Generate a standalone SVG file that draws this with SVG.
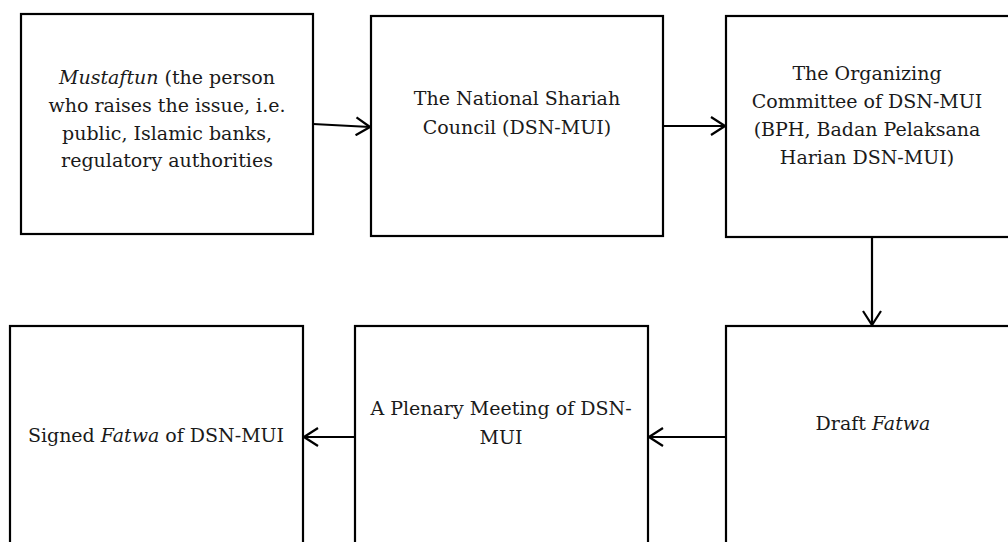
<svg xmlns="http://www.w3.org/2000/svg" width="1008" height="542" viewBox="0 0 1008 542">
<defs>
<style>
.box{fill:#fff;stroke:#000;stroke-width:2.2}
.t{font-family:"DejaVu Serif","Liberation Serif",serif;font-size:19px;fill:#1a1a1a;text-anchor:middle}
.i{font-style:italic}
.c{fill:none;stroke:#000;stroke-width:2.2}
</style>
<marker id="ah" viewBox="0 0 16 20" refX="15" refY="10" markerWidth="16" markerHeight="20" markerUnits="userSpaceOnUse" orient="auto">
<path d="M1,1 L15,10 L1,19" fill="none" stroke="#000" stroke-width="2.2"/>
</marker>
</defs>
<rect width="1008" height="542" fill="#fff"/>
<g id="n1"><rect class="box" x="21" y="14" width="292" height="220"/>
<text class="t" x="167" y="84"><tspan class="i">Mustaftun</tspan> (the person</text>
<text class="t" x="167" y="112">who raises the issue, i.e.</text>
<text class="t" x="167" y="140">public, Islamic banks,</text>
<text class="t" x="167" y="167">regulatory authorities</text></g>
<g id="n2"><rect class="box" x="371" y="16" width="292" height="220"/>
<text class="t" x="517" y="105">The National Shariah</text>
<text class="t" x="517" y="134">Council (DSN-MUI)</text></g>
<g id="n3"><rect class="box" x="726" y="16" width="300" height="221"/>
<text class="t" x="867" y="80">The Organizing</text>
<text class="t" x="867" y="108">Committee of DSN-MUI</text>
<text class="t" x="867" y="136">(BPH, Badan Pelaksana</text>
<text class="t" x="867" y="164">Harian DSN-MUI)</text></g>
<g id="n4"><rect class="box" x="10" y="326" width="293" height="240"/>
<text class="t" x="156" y="442">Signed <tspan class="i">Fatwa</tspan> of DSN-MUI</text></g>
<g id="n5"><rect class="box" x="355" y="326" width="293" height="240"/>
<text class="t" x="501" y="415">A Plenary Meeting of DSN-</text>
<text class="t" x="501" y="444">MUI</text></g>
<g id="n6"><rect class="box" x="726" y="326" width="300" height="240"/>
<text class="t" x="873" y="430">Draft <tspan class="i">Fatwa</tspan></text></g>
<g id="connectors">
<path class="c" d="M313,124 L370,127" marker-end="url(#ah)"/>
<path class="c" d="M663,126 L725,126" marker-end="url(#ah)"/>
<path class="c" d="M872,237 L872,325" marker-end="url(#ah)"/>
<path class="c" d="M726,437 L649,437" marker-end="url(#ah)"/>
<path class="c" d="M355,437 L304,437" marker-end="url(#ah)"/>
</g>
</svg>
